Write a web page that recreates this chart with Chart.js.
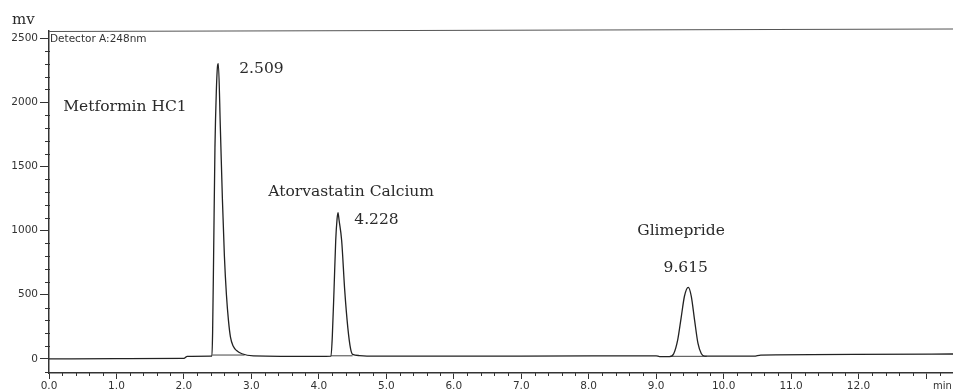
<!DOCTYPE html>
<html>
<head>
<meta charset="utf-8">
<script src="https://cdn.jsdelivr.net/npm/chart.js@4.4.1/dist/chart.umd.min.js"></script>
<style>
    html, body { margin: 0; padding: 0; background: #fff; }
    #wrap { width: 953px; height: 391px; }
</style>
</head>
<body>
<div id="wrap"><canvas id="chartCromatograma" width="953" height="391"></canvas></div>
<script>
var tempos = [0.00, 1.00, 2.00, 2.05, 2.40, 2.415, 2.425, 2.44, 2.46, 2.48, 2.50, 2.51, 2.54, 2.57, 2.60, 2.63, 2.66, 2.69, 2.73, 2.78, 2.86, 3.03,
    4.00, 4.18, 4.20, 4.225, 4.25, 4.27, 4.284, 4.30, 4.338, 4.383, 4.43, 4.47, 4.50, 4.60, 4.75,
    7.00, 9.00, 9.05, 9.20, 9.26, 9.32, 9.37, 9.42, 9.476, 9.52, 9.57, 9.62, 9.67, 9.72, 10.45, 10.55, 13.40];
var sinal = [0, 2, 4, 20, 22, 22, 200, 800, 1650, 2080, 2290, 2300, 1800, 1250, 800, 500, 300, 170, 100, 65, 40, 24,
    20, 22, 180, 538, 923, 1090, 1140, 1080, 923, 538, 240, 80, 35, 26, 22,
    22, 24, 18, 18, 40, 150, 320, 490, 558, 490, 300, 120, 40, 22, 22, 30, 38];

// linhas de base de integracao (null separa os picos)
var temposBase = [2.42, 2.90, 2.95, 4.18, 4.50, 4.55, 9.20, 9.75];
var valoresBase = [30, 30, null, 24, 24, null, 20, 20];

// eixos
var ticksX = [0, 1, 2, 3, 4, 5, 6, 7, 8, 9, 10, 11, 12, 13];
var labelsX = ['0.0', '1.0', '2.0', '3.0', '4.0', '5.0', '6.0', '7.0', '8.0', '9.0', '10.0', '11.0', '12.0', ''];
var ticksY = [0, 500, 1000, 1500, 2000, 2500];
var labelsY = ['0', '500', '1000', '1500', '2000', '2500'];

// textos dos picos (posicao em min / mV)
var textosPicos = ['Metformin HC1', '2.509', 'Atorvastatin Calcium', '4.228', 'Glimepride', '9.615'];
var textosX = [0.21, 2.82, 3.25, 4.525, 8.72, 9.11];
var textosY = [1930, 2226, 1268, 1050, 965, 677];

function montarPontos(xs, ys) {
    var pontos = [];
    for (var i = 0; i < xs.length; i++) {
        pontos.push({ x: xs[i], y: ys[i] });
    }
    return pontos;
}

var corEixo = '#333';
var fonteEixo = { family: 'DejaVu Sans', size: 10.5 };

var pluginDecoracao = {
    id: 'decoracao',
    afterDraw: function (chart) {
        var ctx = chart.ctx;
        var area = chart.chartArea;
        var sx = chart.scales.x;
        var sy = chart.scales.y;
        ctx.save();

        // moldura de cima
        ctx.strokeStyle = '#555';
        ctx.lineWidth = 1.2;
        ctx.beginPath();
        ctx.moveTo(area.left, area.top + 0.5);
        ctx.lineTo(area.right, area.top - 2);
        ctx.stroke();

        // ticks menores
        ctx.strokeStyle = corEixo;
        ctx.lineWidth = 1;
        ctx.beginPath();
        for (var v = -100; v <= 2500; v += 100) {
            if (v % 500 == 0) continue;
            var py = Math.round(sy.getPixelForValue(v)) + 0.5;
            ctx.moveTo(area.left - 4, py);
            ctx.lineTo(area.left + 1, py);
        }
        for (var k = 1; k <= 66; k++) {
            if (k % 5 == 0) continue;
            var px = Math.round(sx.getPixelForValue(k * 0.2)) + 0.5;
            ctx.moveTo(px, area.bottom);
            ctx.lineTo(px, area.bottom + 3);
        }
        ctx.stroke();

        // unidades
        ctx.fillStyle = '#2a2a2a';
        ctx.font = '15px "DejaVu Serif"';
        ctx.textBaseline = 'alphabetic';
        ctx.textAlign = 'left';
        ctx.fillText('mv', 12, 24);

        ctx.font = '10px "DejaVu Sans"';
        ctx.fillStyle = '#333';
        ctx.textBaseline = 'top';
        ctx.fillText('min', 933, 381);
        ctx.font = '10.5px "DejaVu Sans"';
        ctx.fillText('Detector A:248nm', area.left + 1, area.top + 3);

        // nomes e tempos dos picos
        ctx.fillStyle = '#2a2a2a';
        ctx.font = '15.5px "DejaVu Serif"';
        ctx.textBaseline = 'alphabetic';
        for (var i = 0; i < textosPicos.length; i++) {
            ctx.fillText(textosPicos[i], sx.getPixelForValue(textosX[i]), sy.getPixelForValue(textosY[i]));
        }
        ctx.restore();
    }
};

const ctxCromatograma = document.getElementById('chartCromatograma');
var chartCromatograma = new Chart(ctxCromatograma, {
    type: 'line',
    data: {
        datasets: [{
            label: 'sinal',
            data: montarPontos(tempos, sinal),
            borderColor: '#222',
            borderWidth: 1.3,
            pointRadius: 0,
            cubicInterpolationMode: 'monotone',
        }, {
            label: 'base',
            data: montarPontos(temposBase, valoresBase),
            borderColor: '#444',
            borderWidth: 1,
            pointRadius: 0,
            spanGaps: false,
        }]
    },
    options: {
        responsive: false,
        animation: false,
        devicePixelRatio: 1,
        layout: {
            padding: { top: 31, right: 0, left: 0, bottom: 0 }
        },
        plugins: {
            legend: { display: false },
            tooltip: { enabled: false },
            title: { display: false }
        },
        scales: {
            x: {
                type: 'linear',
                min: 0,
                max: 13.4,
                afterBuildTicks: function (scale) {
                    scale.ticks = ticksX.map(function (v) { return { value: v }; });
                },
                afterFit: function (scale) {
                    scale.height = 18;
                },
                ticks: {
                    color: corEixo,
                    font: fonteEixo,
                    padding: 1,
                    maxRotation: 0,
                    autoSkip: false,
                    callback: function (value, index) {
                        return labelsX[index];
                    }
                },
                grid: {
                    drawOnChartArea: false,
                    tickLength: 6,
                    color: corEixo
                },
                border: { color: corEixo, width: 1.5 }
            },
            y: {
                min: -110,
                max: 2555,
                afterBuildTicks: function (scale) {
                    scale.ticks = ticksY.map(function (v) { return { value: v }; });
                },
                afterFit: function (scale) {
                    scale.width = 49;
                },
                ticks: {
                    color: corEixo,
                    font: fonteEixo,
                    padding: 2,
                    callback: function (value, index) {
                        return labelsY[index];
                    }
                },
                grid: {
                    drawOnChartArea: false,
                    tickLength: 9,
                    color: corEixo
                },
                border: { color: corEixo, width: 1.5 }
            }
        }
    },
    plugins: [pluginDecoracao]
});
</script>
</body>
</html>
